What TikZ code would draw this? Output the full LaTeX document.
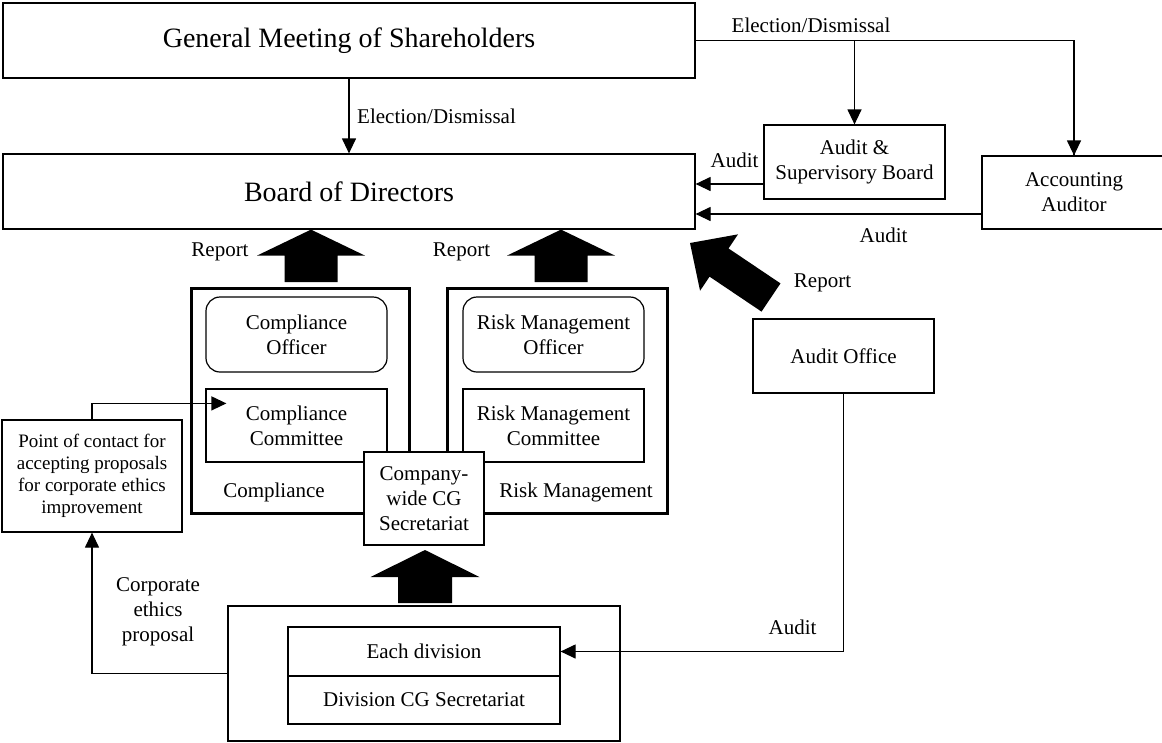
\documentclass[tikz,border=0pt]{standalone}
\usepackage{fontspec}
\setmainfont{Liberation Serif}
\usetikzlibrary{arrows.meta,calc}

% Filled block arrow: #1 tail, #2 tip, #3 half shaft width, #4 half head width, #5 head length
\newcommand{\blockarrow}[5]{%
  \path ($(#2)!#5!(#1)$) coordinate (hb);
  \fill ($(#1)!#3!90:(#2)$) -- ($(hb)!#3!-90:(#1)$) -- ($(hb)!#4!-90:(#1)$) -- (#2)
    -- ($(hb)!#4!90:(#1)$) -- ($(hb)!#3!90:(#1)$) -- ($(#1)!#3!-90:(#2)$) -- cycle;
}

\begin{document}
\begin{tikzpicture}[x=1pt,y=-1pt,
  thinline/.style={line width=1.2pt},
  txt/.style={font=\fontsize{21}{25}\selectfont, align=center, inner sep=0pt},
  bigtxt/.style={font=\fontsize{28}{34}\selectfont, align=center, inner sep=0pt},
  box/.style 2 args={txt, draw, thinline, fill=white, minimum width=#1, minimum height=#2},
  bigbox/.style 2 args={bigtxt, draw, thinline, fill=white, minimum width=#1, minimum height=#2},
  roundbox/.style 2 args={box={#1}{#2}, rounded corners=14pt},
  groupbox/.style 2 args={draw, line width=3pt, minimum width=#1, minimum height=#2, inner sep=0pt},
  arr/.style={thinline, -{Triangle[length=15pt,width=14pt]}}
]
\useasboundingbox (0,0) rectangle (1162,742);

% Top level bodies
\node[bigbox={692pt}{75pt}] (gms) at (349,40.5) {General Meeting of Shareholders};
\node[bigbox={692pt}{75pt}] (board) at (349,191.5) {Board of Directors};
\node[box={181pt}{74pt}] (asb) at (854.5,162) {Audit \&\\Supervisory Board};
\node[box={184pt}{73pt}] (acc) at (1074,192.5) {Accounting\\Auditor};
\node[box={181pt}{74pt}] (aoff) at (843.5,356) {Audit Office};

% Compliance and risk management groups
\node[groupbox={218pt}{225pt}] (comp) at (300,400.5) {};
\node[groupbox={220pt}{225pt}] (risk) at (557,400.5) {};
\node[roundbox={181pt}{75pt}] (coff) at (296.5,334.5) {Compliance\\Officer};
\node[box={181pt}{73pt}] (ccom) at (296.5,425.5) {Compliance\\Committee};
\node[txt] (complbl) at (274,492) {Compliance};
\node[roundbox={181pt}{75pt}] (roff) at (553.5,334.5) {Risk Management\\Officer};
\node[box={181pt}{73pt}] (rcom) at (553.5,425.5) {Risk Management\\Committee};
\node[txt] (risklbl) at (576,492) {Risk Management};
\node[box={120pt}{93pt}] (cgsec) at (424,498.5) {Company-\\wide CG\\Secretariat};

% Proposal contact point
\node[draw, thinline, fill=white, minimum width=180pt, minimum height=112pt,
      font=\fontsize{19}{22}\selectfont, align=center, inner sep=0pt] (poc) at (92,476)
  {Point of contact for\\accepting proposals\\for corporate ethics\\improvement};

% Divisions
\node[draw, thinline, minimum width=392pt, minimum height=135pt] (outer) at (424,673.5) {};
\node[box={272pt}{49pt}] (ediv) at (424,651.5) {Each division};
\node[box={272pt}{48pt}] (dcg) at (424,700) {Division CG Secretariat};

% Election / dismissal
\draw[arr] (gms.south) -- (board.north);
\node[txt, anchor=west] (el1) at (357,116) {Election/Dismissal};
\coordinate (split) at (gms.east -| asb.north);
\draw[thinline] (gms.east) -| (acc.north);
\draw[arr] (gms.east -| acc.north) -- (acc.north);
\draw[arr] (split) -- (asb.north);
\node[txt] (el2) at (811,25) {Election/Dismissal};

% Audit lines into the board
\coordinate (a1) at ($(asb.west)+(0,22)$);
\draw[arr] (a1) -- (a1 -| board.east);
\node[txt] (au1) at (734.5,160) {Audit};
\coordinate (a2) at ($(acc.west)+(0,21.5)$);
\draw[arr] (a2) -- (a2 -| board.east);
\node[txt] (au2) at (883.5,235) {Audit};

% Audit of each division
\draw[arr] (aoff.south) |- (ediv.east);
\node[txt] (au3) at (792.5,627) {Audit};

% Corporate ethics proposals
\draw[arr] (outer.west) -| (poc.south);
\node[txt] (prop) at (158,612) {Corporate\\ethics\\proposal};
\draw[arr] (poc.north) |- ($(ccom.north west)+(21,15)$);

% Report block arrows
\coordinate (r1tail) at (311,282);
\coordinate (r1tip) at (board.south -| r1tail);
\blockarrow{r1tail}{r1tip}{26.5pt}{54pt}{26pt}
\node[txt] (rep1) at (220,252) {Report};
\coordinate (r2tail) at (561,282);
\coordinate (r2tip) at (board.south -| r2tail);
\blockarrow{r2tail}{r2tip}{26.5pt}{54pt}{26pt}
\node[txt] (rep2) at (461.5,252) {Report};
\coordinate (r3tail) at (771,297.5);
\coordinate (r3tip) at (690,243);
\blockarrow{r3tail}{r3tip}{17pt}{34pt}{35pt}
\node[txt] (rep3) at (822.5,283) {Report};
\coordinate (r4tail) at (425,603);
\coordinate (r4tip) at (425,550);
\blockarrow{r4tail}{r4tip}{27pt}{54.5pt}{27pt}
\end{tikzpicture}
\end{document}
